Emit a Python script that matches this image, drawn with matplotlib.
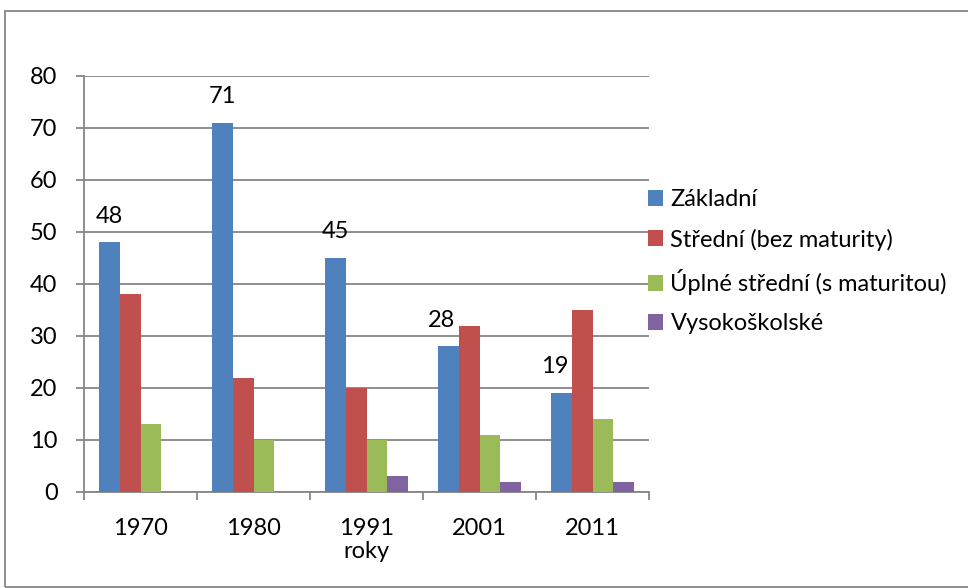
import matplotlib.pyplot as plt
from matplotlib.patches import Rectangle
import numpy as np

# Data
roky = ['1970', '1980', '1991', '2001', '2011']
zakladni = [48, 71, 45, 28, 19]
stredni = [38, 22, 20, 32, 35]
uplne_stredni = [13, 10, 10, 11, 14]
vysokoskolske = [0, 0, 3, 2, 2]
nazvy = ['Základní', 'Střední (bez maturity)', 'Úplné střední (s maturitou)', 'Vysokoškolské']
barvy = ['#4F81BD', '#C0504D', '#9BBB59', '#8064A2']

plt.rcParams['font.family'] = ['Lato', 'DejaVu Sans']
plt.rcParams['font.size'] = 17

fig = plt.figure(figsize=(9.68, 5.88), dpi=100)
ax = fig.add_axes([84/968, 1-492/588, (649-84)/968, (492-76)/588])

# ramecek kolem celeho grafu
fig.patches.append(Rectangle((5/968, 1-587/588), 2, (587-11)/588, transform=fig.transFigure,
                             fill=False, edgecolor='#868686', linewidth=1.3))

x = np.arange(len(roky))
w = 1/5.5
serie = [zakladni, stredni, uplne_stredni, vysokoskolske]
for i, s in enumerate(serie):
    ax.bar(x + (i-1.5)*w, s, width=w, color=barvy[i], label=nazvy[i], zorder=3)

# popisky jen pro zakladni (kdyz je vedle vyssi sloupec, posunout trochu doleva)
for xi, v, v2 in zip(x, zakladni, stredni):
    dx = -5 if v2 > v else 0
    ax.annotate(str(v), (xi - 1.5*w, v), xytext=(dx, 19), textcoords='offset points',
                ha='center', va='center')

ax.set_xlim(-0.5, 4.5)
ax.set_ylim(0, 80)
ax.set_yticks(range(0, 81, 10))
ax.set_xticks(x)
ax.set_xticklabels(roky)
ax.set_xticks(np.arange(-0.5, 5, 1), minor=True)
ax.tick_params(axis='x', which='major', length=0, pad=19)
ax.tick_params(axis='x', which='minor', length=6, color='#868686', width=1.3)
ax.tick_params(axis='y', length=6, color='#868686', width=1.3, pad=13)
ax.set_xlabel('roky')
ax.xaxis.set_label_coords(0.5, -0.142)
ax.xaxis.label.set_va('center')

ax.grid(axis='y', color='#868686', linewidth=1.3, zorder=0)
for side in ['top', 'right']:
    ax.spines[side].set_visible(False)
for side in ['left', 'bottom']:
    ax.spines[side].set_color('#868686')
    ax.spines[side].set_linewidth(1.3)

ax.legend(loc='upper left', bbox_to_anchor=(648/968, 1-189/588), bbox_transform=fig.transFigure,
          frameon=False, handlelength=0.65, handleheight=0.65, handletextpad=0.3,
          labelspacing=0.78, borderaxespad=0, borderpad=0)

fig.savefig('out.png', dpi=100)
